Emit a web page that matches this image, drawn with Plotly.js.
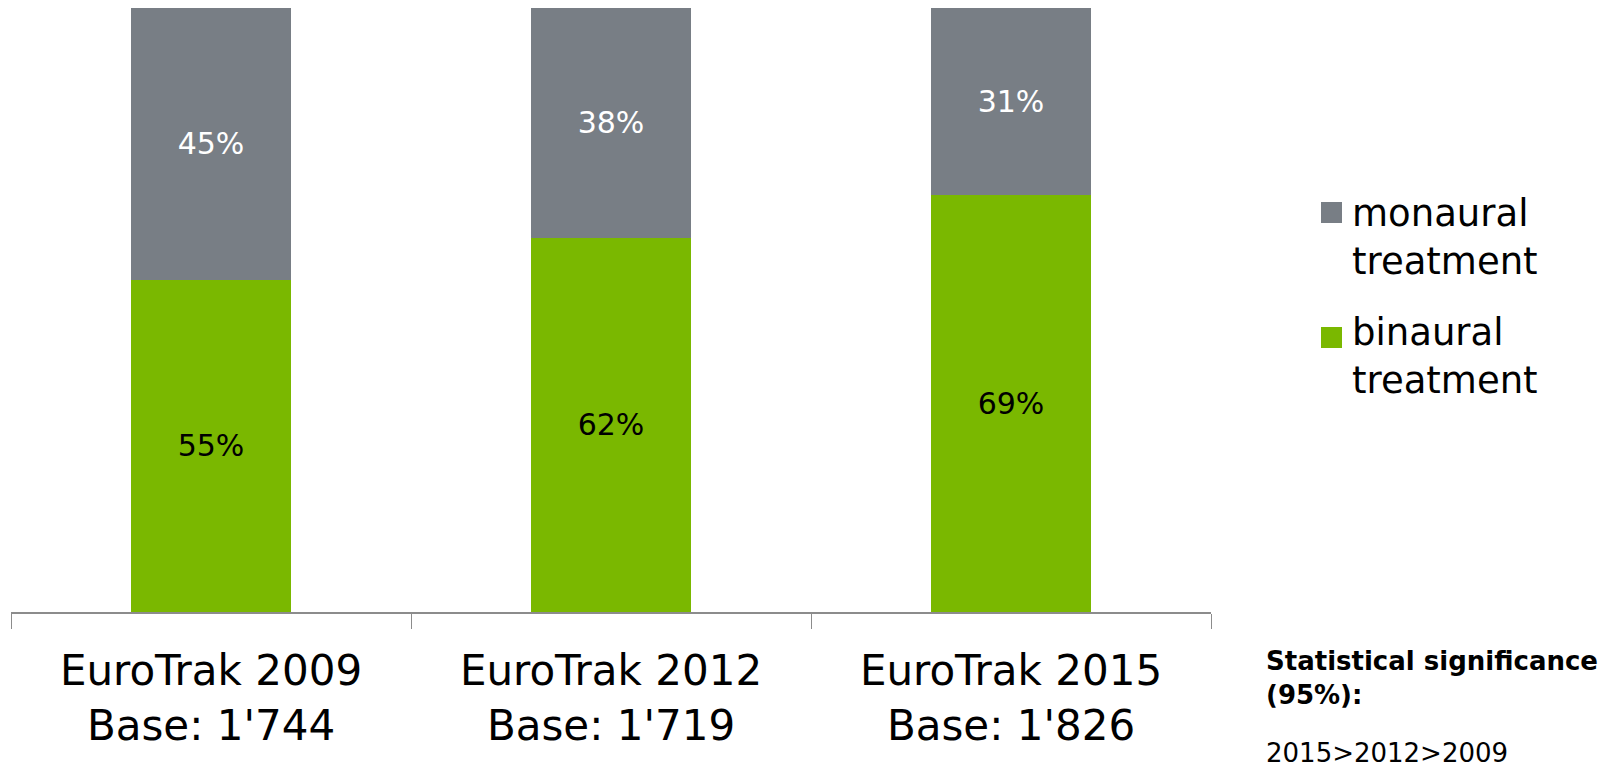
<!DOCTYPE html>
<html>
<head>
<meta charset="utf-8">
<script src="https://cdn.plot.ly/plotly-3.0.1.min.js"></script>
<style>html,body{margin:0;padding:0;background:#fff;}#chart{width:1618px;height:768px;}</style>
</head>
<body>
<div id="chart"></div>
<script>
// ---- data ----
const categories = ["EuroTrak 2009", "EuroTrak 2012", "EuroTrak 2015"];
const bases = ["1'744", "1'719", "1'826"];
const binaural = [55, 62, 69];
const monaural = [45, 38, 31];
const seriesNames = ["binaural<br>treatment", "monaural<br>treatment"];
const significanceTitle = "Statistical significance<br>(95%):";
const significanceOrder = ["2015", "2012", "2009"];

// ---- styles ----
const GREEN = "#7AB800";
const GRAY = "#787E85";
const FONT = "DejaVu Sans, Verdana, sans-serif";

// plot area in pixels
const L = 11, R = 1211, T = 8, B = 612, W = 1618, H = 768;
const px = x => (x - L) / (R - L);
const py = y => (B - y) / (B - T);

const tickText = categories.map((c, i) => c + "<br>Base: " + bases[i]);

const traces = [
  {
    type: "bar", x: categories, y: binaural, name: seriesNames[0],
    marker: {color: GREEN, line: {width: 0}},
    width: 0.4,
    texttemplate: "%{y}%", textposition: "inside", insidetextanchor: "middle",
    textangle: 0, constraintext: "none",
    textfont: {family: FONT, size: 30, color: "#000000"},
    hoverinfo: "x+y", showlegend: false
  },
  {
    type: "bar", x: categories, y: monaural, name: seriesNames[1],
    marker: {color: GRAY, line: {width: 0}},
    width: 0.4,
    texttemplate: "%{y}%", textposition: "inside", insidetextanchor: "middle",
    textangle: 0, constraintext: "none",
    textfont: {family: FONT, size: 30, color: "#FFFFFF"},
    hoverinfo: "x+y", showlegend: false
  }
];

const layout = {
  width: W, height: H,
  margin: {l: L, r: W - R, t: T, b: H - B, pad: 0},
  barmode: "stack",
  paper_bgcolor: "#fff", plot_bgcolor: "#fff",
  font: {family: FONT, color: "#000"},
  showlegend: false,
  xaxis: {
    type: "category",
    tickmode: "array", tickvals: categories, ticktext: tickText,
    tickfont: {family: FONT, size: 42, color: "#000"},
    ticklabelstandoff: 21,
    showline: true, linecolor: "#8C8C8C", linewidth: 2,
    ticks: "outside", tickson: "boundaries", ticklen: 15, tickwidth: 1, tickcolor: "#8C8C8C",
    showgrid: false, zeroline: false, fixedrange: true,
    range: [-0.5, 2.5]
  },
  yaxis: {visible: false, range: [0, 100], fixedrange: true, showgrid: false, zeroline: false},
  shapes: [
    {type: "rect", xref: "paper", yref: "paper", x0: px(1321), x1: px(1342), y0: py(223), y1: py(202),
     fillcolor: GRAY, line: {width: 0}},
    {type: "rect", xref: "paper", yref: "paper", x0: px(1321), x1: px(1342), y0: py(348), y1: py(327),
     fillcolor: GREEN, line: {width: 0}}
  ],
  annotations: [
    {xref: "paper", yref: "paper", x: px(1350), y: py(238), xanchor: "left", yanchor: "middle",
     text: seriesNames[1], showarrow: false, align: "left",
     font: {family: FONT, size: 37, color: "#000"}},
    {xref: "paper", yref: "paper", x: px(1350), y: py(356), xanchor: "left", yanchor: "middle",
     text: seriesNames[0], showarrow: false, align: "left",
     font: {family: FONT, size: 37, color: "#000"}},
    {xref: "paper", yref: "paper", x: px(1264), y: py(678), xanchor: "left", yanchor: "middle",
     text: "<b>" + significanceTitle + "</b>",
     showarrow: false, align: "left",
     font: {family: FONT, size: 26, color: "#000"}},
    {xref: "paper", yref: "paper", x: px(1264), y: py(753), xanchor: "left", yanchor: "middle",
     text: significanceOrder.join("&gt;"),
     showarrow: false, align: "left",
     font: {family: FONT, size: 26, color: "#000"}}
  ]
};

Plotly.newPlot("chart", traces, layout, {displayModeBar: false, staticPlot: true});
</script>
</body>
</html>
